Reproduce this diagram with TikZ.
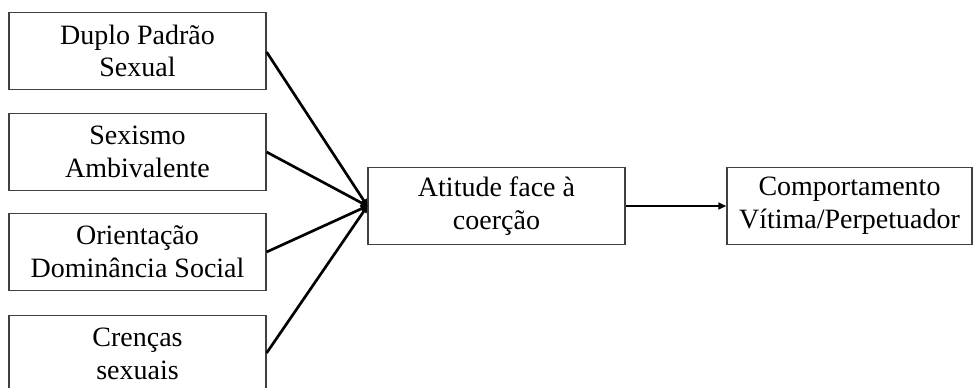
\documentclass[tikz,border=0pt]{standalone}
\usepackage{fontspec}
\setmainfont{Liberation Serif}
\usetikzlibrary{arrows.meta}
\begin{document}
\begin{tikzpicture}[x=0.75pt,y=-0.75pt,
  box/.style={draw=black!75,line width=0.9pt,minimum width=257*0.75pt,minimum height=77*0.75pt,
    inner sep=0pt,align=center,font=\fontsize{21}{24.5}\selectfont},
  conn/.style={line width=2pt,black}]
\useasboundingbox (0,0) rectangle (973,387);
\clip (0,0) rectangle (973,387);
\node[box] (b1) at (137.5,51) {Duplo Padrão\\Sexual};
\node[box] (b2) at (137.5,152) {Sexismo\\Ambivalente};
\node[box] (b3) at (137.5,252) {Orientação\\Dominância Social};
\node[box] (b4) at (137.5,354) {Crenças\\sexuais};
\node[box] (c) at (496.5,206) {Atitude face à\\coerção};
\node[box,minimum width=245*0.75pt] (r) at (849.5,206) {Comportamento\\Vítima/Perpetuador};
\coordinate (m) at (c.west);
\foreach \b/\y in {b1/52,b2/152,b3/252,b4/353}
  \draw[conn,-{Triangle[length=5pt,width=5pt]}] (\b.east |- 0,\y) -- (m);
\draw[conn,-{Triangle[length=6pt,width=5pt]}] (c.east) -- (r.west);
\end{tikzpicture}
\end{document}
